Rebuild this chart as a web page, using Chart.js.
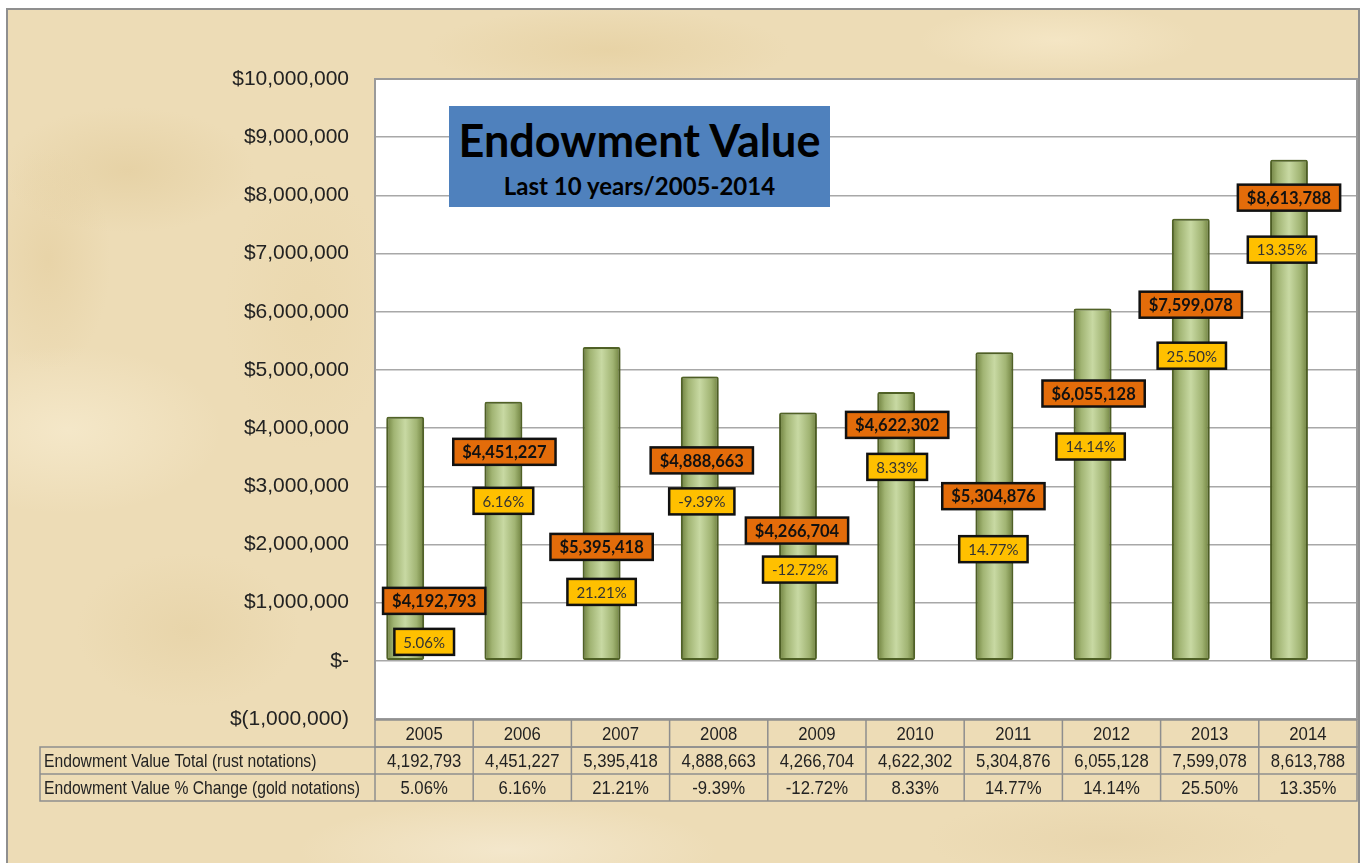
<!DOCTYPE html>
<html>
<head>
<meta charset="utf-8">
<title>Endowment Value</title>
<script src="https://cdn.jsdelivr.net/npm/chart.js@4.4.1/dist/chart.umd.min.js"></script>
<style>
  html, body { margin: 0; padding: 0; background: #fff; }
  body { width: 1364px; height: 863px; position: relative; overflow: hidden; }
  #frame {
    position: absolute; left: 6px; top: 8px; width: 1350px; height: 870px;
    border: 2px solid #8f8f8f;
    background-color: #eddcb6;
    background-image:
      radial-gradient(ellipse 180px 90px at 120px 160px, rgba(222,198,146,0.45), transparent 70%),
      radial-gradient(ellipse 220px 120px at 60px 420px, rgba(246,234,205,0.8), transparent 70%),
      radial-gradient(ellipse 160px 110px at 180px 620px, rgba(226,204,156,0.45), transparent 70%),
      radial-gradient(ellipse 260px 60px at 600px 40px, rgba(226,202,150,0.5), transparent 70%),
      radial-gradient(ellipse 200px 50px at 1050px 30px, rgba(246,232,200,0.8), transparent 70%),
      radial-gradient(ellipse 300px 70px at 500px 840px, rgba(244,232,206,0.9), transparent 70%),
      radial-gradient(ellipse 260px 60px at 1100px 830px, rgba(228,208,166,0.5), transparent 70%),
      radial-gradient(ellipse 120px 200px at 300px 300px, rgba(232,212,166,0.45), transparent 70%),
      radial-gradient(ellipse 90px 160px at 40px 250px, rgba(222,196,142,0.35), transparent 70%);
  }
  #chart { position: absolute; left: 0; top: 0; }
  #titleBox {
    position: absolute; left: 449px; top: 106px; width: 381px; height: 101px;
    background: #4f81bd; text-align: center; color: #000;
    font-family: Lato, "Open Sans", sans-serif; font-weight: bold;
  }
  #titleBox .main { font-size: 45px; line-height: 45px; margin-top: 12px; }
  #titleBox .sub { font-size: 24px; line-height: 26px; margin-top: 10px; }
</style>
</head>
<body>
<div id="frame"></div>
<canvas id="chart" width="1364" height="863"></canvas>
<div id="titleBox"><div class="main">Endowment Value</div><div class="sub">Last 10 years/2005-2014</div></div>
<script>
const years = ['2005', '2006', '2007', '2008', '2009', '2010', '2011', '2012', '2013', '2014'];
const endowmentTotal = [4192793, 4451227, 5395418, 4888663, 4266704, 4622302, 5304876, 6055128, 7599078, 8613788];
const pctChange = [5.06, 6.16, 21.21, -9.39, -12.72, 8.33, 14.77, 14.14, 25.50, 13.35];
const rowLabels = ['Endowment Value Total (rust notations)', 'Endowment Value % Change (gold notations)'];
const yMin = -1000000, yMax = 10000000, yStep = 1000000;

// callout placement (px below bar top / px right of bar centre)
const rustDrop = [184, 50, 200, 84, 118, 33, 144, 85, 86, 38];
const rustShift = [29, 1, 0, 2, -1, 1, -1, 1, 0, 0];
const goldDrop = [225, 99, 245, 125, 157, 75, 197, 138, 137, 90];
const goldShift = [19, 0, 0, 2, 2, 1, -1, -2, 1, -7];

const money = v => v.toLocaleString('en-US');
const pct = v => v.toFixed(2) + '%';

function yTickLabel(v) {
  if (v === 0) return '$-';
  if (v < 0) return '$(' + money(-v) + ')';
  return '$' + money(v);
}

const plotBg = {
  id: 'plotBg',
  beforeDraw(chart) {
    const { ctx, chartArea: a } = chart;
    ctx.save();
    ctx.fillStyle = '#fff';
    ctx.fillRect(a.left, a.top, a.right - a.left, a.bottom - a.top);
    ctx.restore();
  },
  afterDraw(chart) {
    const { ctx, chartArea: a } = chart;
    ctx.save();
    ctx.strokeStyle = '#9a9a9a';
    ctx.lineWidth = 2;
    ctx.strokeRect(a.left, a.top, a.right - a.left, a.bottom - a.top);
    ctx.restore();
  }
};

// cylinder-like shading, one gradient per bar
const barLook = {
  id: 'barLook',
  beforeDatasetDraw(chart, args) {
    if (args.index !== 0) return;
    const ctx = chart.ctx;
    args.meta.data.forEach(el => {
      const l = el.x - el.width / 2, r = el.x + el.width / 2;
      const g = ctx.createLinearGradient(l, 0, r, 0);
      g.addColorStop(0, '#6d7f3c');
      g.addColorStop(0.2, '#a1b473');
      g.addColorStop(0.5, '#c8d9a3');
      g.addColorStop(0.8, '#a1b473');
      g.addColorStop(1, '#6d7f3c');
      el.options = Object.assign({}, el.options, { backgroundColor: g });
    });
    ctx.save();
    ctx.shadowColor = 'rgba(50,60,20,0.6)';
    ctx.shadowBlur = 7;
  },
  afterDatasetDraw(chart, args) {
    if (args.index === 0) chart.ctx.restore();
  }
};

function callout(ctx, text, cx, cy, fill, font, color, padX) {
  ctx.font = font;
  const w = ctx.measureText(text).width + padX * 2;
  const h = 26;
  ctx.fillStyle = fill;
  ctx.fillRect(cx - w / 2, cy - h / 2, w, h);
  ctx.lineWidth = 2.5;
  ctx.strokeStyle = '#111';
  ctx.strokeRect(cx - w / 2, cy - h / 2, w, h);
  ctx.fillStyle = color;
  ctx.textAlign = 'center';
  ctx.textBaseline = 'middle';
  ctx.fillText(text, cx, cy + 1);
}

const callouts = {
  id: 'callouts',
  afterDatasetsDraw(chart) {
    const ctx = chart.ctx;
    const bars = chart.getDatasetMeta(0).data;
    ctx.save();
    bars.forEach((el, i) => {
      callout(ctx, '$' + money(endowmentTotal[i]), el.x + rustShift[i], el.y + rustDrop[i],
        '#e36c0a', 'bold 16.5px Lato, sans-serif', '#111', 9);
      callout(ctx, pct(pctChange[i]), el.x + goldShift[i], el.y + goldDrop[i],
        '#ffc000', '15px Lato, sans-serif', '#333', 9);
    });
    ctx.restore();
  }
};

// narrow text, like Arial Narrow
function narrowText(ctx, text, x, y, align, sx) {
  ctx.save();
  ctx.translate(x, y);
  ctx.scale(sx, 1);
  ctx.textAlign = align;
  ctx.fillText(text, 0, 0);
  ctx.restore();
}

const dataTable = {
  id: 'dataTable',
  afterDraw(chart) {
    const { ctx, chartArea: a } = chart;
    const xs = chart.scales.x;
    const cw = (a.right - a.left) / years.length;
    const top = a.bottom + 1, rh = 27;
    const labelLeft = 40;
    ctx.save();
    ctx.strokeStyle = '#8e8e8e';
    ctx.lineWidth = 1.5;
    ctx.fillStyle = '#222';
    ctx.font = '19px "Liberation Sans", Arial, sans-serif';
    ctx.textBaseline = 'middle';
    ctx.strokeRect(a.left, top, a.right - a.left, rh);
    ctx.strokeRect(labelLeft, top + rh, a.right - labelLeft, rh * 2);
    ctx.beginPath();
    ctx.moveTo(labelLeft, top + rh * 2);
    ctx.lineTo(a.right, top + rh * 2);
    ctx.moveTo(a.left, top + rh);
    ctx.lineTo(a.left, top + rh * 3);
    for (let i = 1; i < years.length; i++) {
      const x = a.left + cw * i;
      ctx.moveTo(x, top);
      ctx.lineTo(x, top + rh * 3);
    }
    ctx.stroke();
    years.forEach((y, i) => {
      const cx = xs.getPixelForValue(i);
      narrowText(ctx, y, cx, top + rh * 0.5 + 1, 'center', 0.88);
      narrowText(ctx, money(endowmentTotal[i]), cx, top + rh * 1.5 + 1, 'center', 0.88);
      narrowText(ctx, pct(pctChange[i]), cx, top + rh * 2.5 + 1, 'center', 0.88);
    });
    rowLabels.forEach((t, r) => narrowText(ctx, t, labelLeft + 4, top + rh * (1.5 + r) + 1, 'left', 0.825));
    ctx.restore();
  }
};

new Chart(document.getElementById('chart'), {
  type: 'bar',
  data: {
    labels: years,
    datasets: [
      {
        label: 'Endowment Value Total',
        data: endowmentTotal,
        borderColor: '#56692a',
        borderWidth: 2,
        borderRadius: 2,
        borderSkipped: false,
        barPercentage: 1,
        categoryPercentage: 0.77
      },
      {
        label: 'Endowment Value % Change',
        data: pctChange,
        yAxisID: 'yPct',
        backgroundColor: 'rgba(0,0,0,0)',
        borderWidth: 0,
        barPercentage: 1,
        categoryPercentage: 0.77
      }
    ]
  },
  options: {
    responsive: false,
    animation: false,
    layout: { padding: { left: 0, top: 79, right: 7, bottom: 144 } },
    scales: {
      x: { display: false },
      y: {
        min: yMin,
        max: yMax,
        afterFit: s => { s.width = 375; },
        ticks: {
          stepSize: yStep,
          padding: 26,
          color: '#222',
          font: { family: '"Liberation Sans", Arial, sans-serif', size: 21 },
          callback: v => yTickLabel(v)
        },
        grid: { color: '#a8a8a8', lineWidth: 1.5, drawTicks: false },
        border: { display: false }
      },
      yPct: { display: false, min: -100, max: 100 }
    },
    plugins: {
      legend: { display: false },
      tooltip: { enabled: false }
    }
  },
  plugins: [plotBg, barLook, callouts, dataTable]
});
</script>
</body>
</html>
